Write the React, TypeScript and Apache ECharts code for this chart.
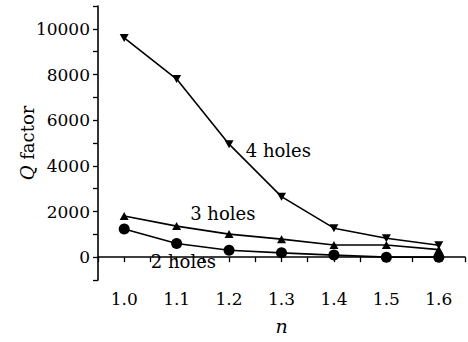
import React, { useEffect, useRef } from "react";
import * as echarts from "echarts";

const nValues = [1.0, 1.1, 1.2, 1.3, 1.4, 1.5, 1.6];
const holes4 = [9600, 7800, 4950, 2650, 1270, 830, 520];
const holes3 = [1800, 1360, 1010, 790, 530, 530, 330];
const holes2 = [1230, 600, 300, 190, 90, 0, 0];
const seriesNames = ["4 holes", "3 holes", "2 holes"];
const labelPositions: [number, number][] = [
  [1.294, 4690],
  [1.188, 1930],
  [1.113, -200],
];

const FONT = "DejaVu Serif";

export default function App() {
  const ref = useRef<HTMLDivElement>(null);
  useEffect(() => {
    if (!ref.current) return;
    const chart = echarts.init(ref.current, undefined, { renderer: "svg" });
    const datasets = [holes4, holes3, holes2];
    const symbols = ["path://M0,0 L10,0 L5,9 Z", "triangle", "circle"];
    const sizes = [[9, 8], [9, 8], 11];
    chart.setOption({
      animation: false,
      grid: { left: 98, right: 0, top: 6, bottom: 62 },
      xAxis: {
        type: "value",
        min: 0.95,
        max: 1.65,
        interval: 0.05,
        name: "{i|n}",
        nameLocation: "middle",
        nameGap: 36,
        nameMoveOverlap: false,
        nameTextStyle: {
          fontFamily: FONT,
          fontSize: 19,
          color: "#000",
          rich: { i: { fontStyle: "italic", fontFamily: FONT, fontSize: 19 } },
        },
        axisLine: { lineStyle: { color: "#000", width: 1.6 } },
        axisTick: { length: 5, lineStyle: { color: "#000", width: 1.3 } },
        splitLine: { show: false },
        axisLabel: {
          margin: 10,
          color: "#000",
          fontFamily: FONT,
          fontSize: 17,
          formatter: (v: number) => {
            const r = Math.round(v * 100);
            return r % 10 === 0 && r >= 100 && r <= 160 ? (r / 100).toFixed(1) : "";
          },
        },
      },
      yAxis: {
        type: "value",
        min: -1000,
        max: 11000,
        interval: 1000,
        name: "{i|Q} factor",
        nameLocation: "middle",
        nameGap: 62,
        nameMoveOverlap: false,
        nameTextStyle: {
          fontFamily: FONT,
          fontSize: 18,
          color: "#000",
          rich: { i: { fontStyle: "italic", fontFamily: FONT, fontSize: 18 } },
        },
        axisLine: { show: true, lineStyle: { color: "#000", width: 1.6 } },
        axisTick: { show: true, length: 5, lineStyle: { color: "#000", width: 1.3 } },
        splitLine: { show: false },
        axisLabel: {
          margin: 8,
          color: "#000",
          fontFamily: FONT,
          fontSize: 17,
          formatter: (v: number) => (v >= 0 && v % 2000 === 0 && v <= 10000 ? String(v) : ""),
        },
      },
      series: datasets.map((d, i) => ({
        type: "line",
        name: seriesNames[i],
        data: nValues.map((x, j) => [x, d[j]]),
        symbol: symbols[i],
        symbolSize: sizes[i],
        showSymbol: true,
        lineStyle: { color: "#000", width: 1.6 },
        itemStyle: { color: "#000" },
        z: 3 - i,
        markPoint: {
          symbol: "circle",
          symbolSize: 0,
          silent: true,
          data: [
            {
              coord: labelPositions[i],
              label: {
                show: true,
                formatter: seriesNames[i],
                position: "inside",
                color: "#000",
                fontFamily: FONT,
                fontSize: 18,
              },
            },
          ],
        },
      })),
    });
    return () => chart.dispose();
  }, []);
  return <div ref={ref} style={{ width: 468, height: 342, position: "absolute", left: 0, top: 0, background: "#fff" }} />;
}
